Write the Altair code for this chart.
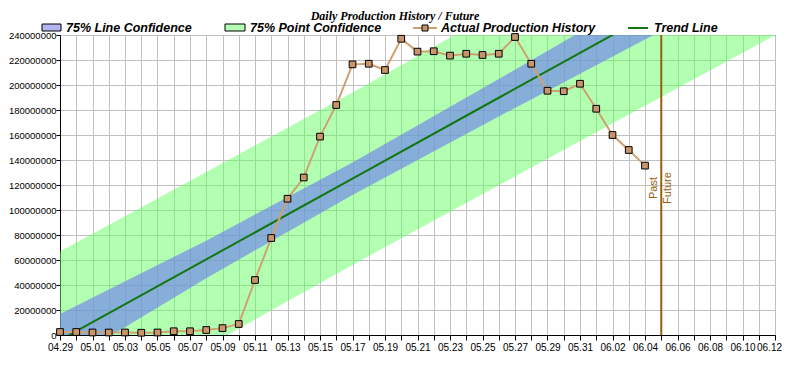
import json
import altair as alt
import pandas as pd

# ---------------- data ----------------
dates = ["04.29", "04.30", "05.01", "05.02", "05.03", "05.04", "05.05", "05.06",
         "05.07", "05.08", "05.09", "05.10", "05.11", "05.12", "05.13", "05.14",
         "05.15", "05.16", "05.17", "05.18", "05.19", "05.20", "05.21", "05.22",
         "05.23", "05.24", "05.25", "05.26", "05.27", "05.28", "05.29", "05.30",
         "05.31", "06.01", "06.02", "06.03", "06.04"]
production = [2.4e6, 2.4e6, 2.0e6, 2.0e6, 2.0e6, 1.8e6, 2.0e6, 3.0e6,
              3.0e6, 4.0e6, 5.5e6, 8.8e6, 44e6, 77.6e6, 109e6, 126e6,
              158.7e6, 184e6, 216.5e6, 217e6, 212e6, 237e6, 226.7e6, 227e6,
              223.5e6, 225e6, 224e6, 225e6, 238.4e6, 217e6, 195.4e6, 195e6,
              201e6, 181e6, 160e6, 148e6, 135.5e6]

# trend line and confidence bands, read at a few days (offset from 04.29)
band_days = [0, 9, 18, 27, 36, 44]
trend_vals = [-4.1e6, 60.5e6, 125.1e6, 189.8e6, 254.4e6, 311.8e6]
line_hi = [16.9e6, 75.5e6, 138.1e6, 204.8e6, 272.4e6, 333.8e6]
line_lo = [-25.1e6, 45.5e6, 112.1e6, 174.8e6, 236.4e6, 289.8e6]
point_hi = [66.9e6, 130.5e6, 194.1e6, 259.8e6, 325.4e6, 383.8e6]
point_lo = [-75.1e6, -9.5e6, 56.1e6, 119.8e6, 183.4e6, 239.8e6]

past_future_day = [37]
past_future_label_y = [117.6e6]

x_labels = ["04.29", "05.01", "05.03", "05.05", "05.07", "05.09", "05.11", "05.13",
            "05.15", "05.17", "05.19", "05.21", "05.23", "05.25", "05.27", "05.29",
            "05.31", "06.02", "06.04", "06.06", "06.08", "06.10", "06.12"]
y_ticks = [0, 20e6, 40e6, 60e6, 80e6, 100e6, 120e6, 140e6, 160e6, 180e6,
           200e6, 220e6, 240e6]

title_text = "Daily Production History / Future"
legend_labels = ["75% Line Confidence", "75% Point Confidence",
                 "Actual Production History", "Trend Line"]

# ---------------- tables ----------------
start = pd.Timestamp("2000-04-29")
hist = pd.DataFrame({
    "date": dates,
    "day": [(pd.to_datetime("2000." + d, format="%Y.%m.%d") - start).days for d in dates],
    "value": production,
})
bands = pd.DataFrame({"day": band_days, "trend": trend_vals,
                      "lhi": line_hi, "llo": line_lo,
                      "phi": point_hi, "plo": point_lo})
pf = pd.DataFrame({"day": past_future_day, "y": past_future_label_y})
one = pd.DataFrame({"a": [0]})

FONT = "Liberation Sans"
SERIF = "Liberation Serif"
GREEN_BAND = "#66FF66"
BLUE_BAND = "#6A78F2"
TAN = "#D0A070"
TAN_PT = "#C8966A"
TREND = "#117711"
BROWN = "#94600F"

label_expr = "datum.value % 2 == 0 ? " + json.dumps(x_labels) + "[datum.value / 2] : ''"

xscale = alt.Scale(domain=[0, 44], nice=False, zero=False)
yscale = alt.Scale(domain=[0, 240e6], nice=False, zero=False)

xaxis = alt.Axis(values=list(range(45)), labelExpr=label_expr, title=None,
                 labelFont=FONT, labelFontSize=10, labelColor="black",
                 tickColor="black", tickSize=5, domainColor="black",
                 gridColor="#C0C0C0", gridOpacity=1, labelOverlap=False,
                 labelFlush=False, labelPadding=2,
                 labelOffset={"condition": {"test": "datum.value >= 44", "value": -6},
                              "value": 0})
yaxis = alt.Axis(values=y_ticks, format="d", title=None,
                 labelFont=FONT, labelFontSize=9.5, labelColor="black",
                 tickColor="black", tickSize=4, domainColor="black",
                 gridColor="#C0C0C0", gridOpacity=1, labelOverlap=False,
                 labelFlush=False, labelPadding=0)


def X(field="day"):
    return alt.X(f"{field}:Q", scale=xscale, axis=xaxis)


def Y(field):
    return alt.Y(f"{field}:Q", scale=yscale, axis=yaxis)


green = alt.Chart(bands).mark_area(color=GREEN_BAND, opacity=0.5, clip=True).encode(
    x=X(), y=Y("phi"), y2="plo:Q")
blue = alt.Chart(bands).mark_area(color=BLUE_BAND, opacity=0.6, clip=True).encode(
    x=X(), y=Y("lhi"), y2="llo:Q")
trend = alt.Chart(bands).mark_line(color=TREND, strokeWidth=2, clip=True).encode(
    x=X(), y=Y("trend"))
pf_rule = alt.Chart(pf).mark_rule(color=BROWN, strokeWidth=2).encode(x=X())
past_txt = alt.Chart(pf).mark_text(text="Past", angle=270, align="center",
                                   baseline="middle", dy=-7, font=FONT,
                                   fontSize=11, color=BROWN).encode(x=X(), y=Y("y"))
fut_txt = alt.Chart(pf).mark_text(text="Future", angle=270, align="center",
                                  baseline="middle", dy=7, font=FONT,
                                  fontSize=11, color=BROWN).encode(x=X(), y=Y("y"))
actual_line = alt.Chart(hist).mark_line(color=TAN, strokeWidth=2).encode(
    x=X(), y=Y("value"))
actual_pts = alt.Chart(hist).mark_point(shape="square", filled=True, size=45,
                                        fill=TAN_PT, stroke="black", strokeWidth=1,
                                        opacity=1).encode(x=X(), y=Y("value"))

# ---------------- title and legend (drawn above the plot area) ----------------
title = alt.Chart(one).mark_text(text=title_text, font=SERIF, fontSize=12,
                                 fontWeight="bold", fontStyle="italic",
                                 align="center", baseline="alphabetic", color="black").encode(
    x=alt.value(335), y=alt.value(-15.5))

LY = -7
leg = []
leg.append(alt.Chart(one).mark_rect(fill="#B4B4F0", stroke="black", strokeWidth=1).encode(
    x=alt.value(-18), x2=alt.value(1), y=alt.value(LY - 4), y2=alt.value(LY + 3)))
leg.append(alt.Chart(one).mark_rect(fill="#B4FFB4", stroke="black", strokeWidth=1).encode(
    x=alt.value(165), x2=alt.value(185), y=alt.value(LY - 4), y2=alt.value(LY + 3)))
leg.append(alt.Chart(one).mark_rule(color=TAN, strokeWidth=2).encode(
    x=alt.value(353), x2=alt.value(377), y=alt.value(LY)))
leg.append(alt.Chart(one).mark_point(shape="square", filled=True, size=36, fill=TAN_PT,
                                     stroke="black", strokeWidth=1, opacity=1).encode(
    x=alt.value(365), y=alt.value(LY)))
leg.append(alt.Chart(one).mark_rule(color=TREND, strokeWidth=2).encode(
    x=alt.value(568), x2=alt.value(588), y=alt.value(LY)))
for lx, lab in zip([6, 190, 381, 594], legend_labels):
    leg.append(alt.Chart(one).mark_text(text=lab, font=FONT, fontSize=12.5,
                                        fontWeight="bold", fontStyle="italic",
                                        align="left", baseline="middle",
                                        color="black").encode(
        x=alt.value(lx), y=alt.value(LY)))

chart = alt.layer(green, blue, trend, pf_rule, past_txt, fut_txt,
                  actual_line, actual_pts, title, *leg).properties(
    width=715, height=300,
    padding={"left": 52, "top": 27, "right": 7, "bottom": 20},
    autosize=alt.AutoSizeParams(type="none"),
    background="white",
).configure_view(stroke="black", strokeWidth=1)

chart.save("out.html", embed_options={"renderer": "svg", "actions": False})
